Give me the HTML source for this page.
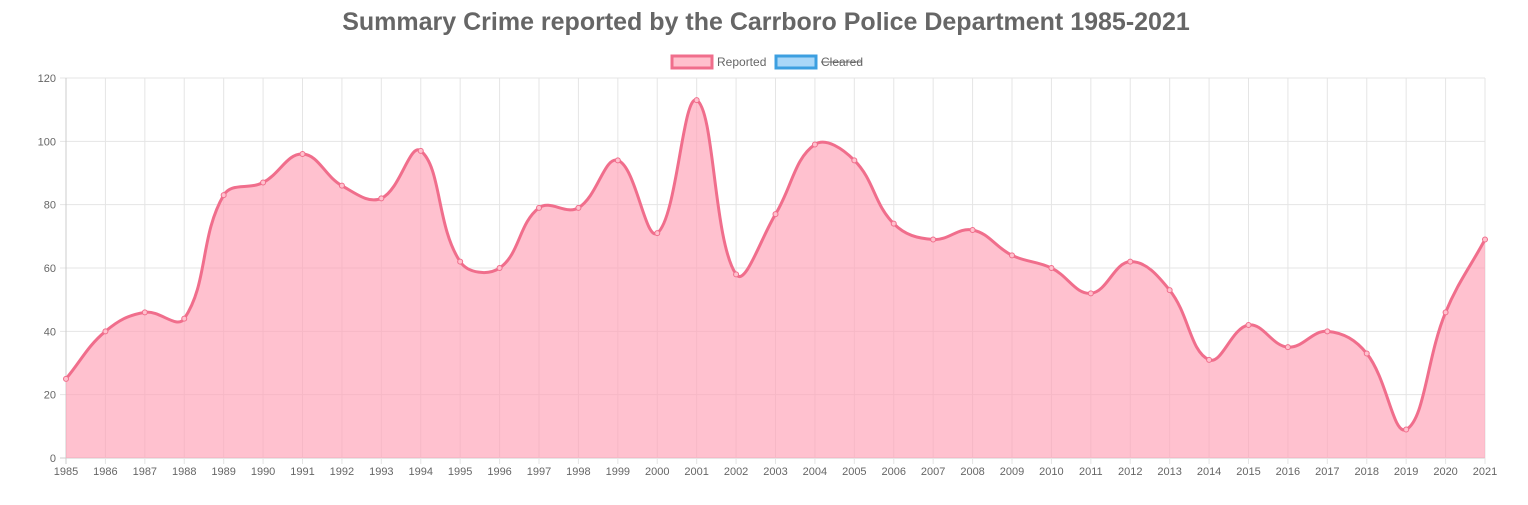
<!DOCTYPE html>
<html><head><meta charset="utf-8"><style>
html,body{margin:0;padding:0;background:#fff;}
body{width:1528px;height:500px;overflow:hidden;font-family:"Liberation Sans",sans-serif;}
</style></head><body>
<svg id="chart" width="1528" height="500" xmlns="http://www.w3.org/2000/svg" font-family="Liberation Sans, sans-serif">
<text x="766" y="30" text-anchor="middle" font-size="25" font-weight="bold" fill="#666">Summary Crime reported by the Carrboro Police Department 1985-2021</text>
<g>
<g>
<rect x="672" y="56" width="40" height="12" fill="#ffc0cd" stroke="#f06e8c" stroke-width="3"/>
<text x="717" y="66" font-size="12" fill="#666">Reported</text>
</g>
<g>
<rect x="776" y="56" width="40" height="12" fill="#a9d7f8" stroke="#3c9fe0" stroke-width="3"/>
<text x="821" y="66" font-size="12" fill="#666">Cleared</text>
<line x1="821" y1="62" x2="862" y2="62" stroke="#666" stroke-width="1"/>
</g>
</g>
<g id="grid"></g>
<g id="marks"></g>
</svg>
<script>
const years=[1985,1986,1987,1988,1989,1990,1991,1992,1993,1994,1995,1996,1997,1998,1999,2000,2001,2002,2003,2004,2005,2006,2007,2008,2009,2010,2011,2012,2013,2014,2015,2016,2017,2018,2019,2020,2021];
const reported=[25,40,46,44,83,87,96,86,82,97,62,60,79,79,94,71,113,58,77,99,94,74,69,72,64,60,52,62,53,31,42,35,40,33,9,46,69];
const yTicks=[0,20,40,60,80,100,120];
const NS="http://www.w3.org/2000/svg";
const x0=66,x1=1485,y0=458,y1=78,yMax=120;
function xs(i){return x0+(x1-x0)*i/(years.length-1);}
function ys(v){return y0-(y0-y1)*v/yMax;}
function mk(t,a,p){const e=document.createElementNS(NS,t);for(const k in a)e.setAttribute(k,a[k]);p.appendChild(e);return e;}
const grid=document.getElementById('grid'),marks=document.getElementById('marks');
yTicks.forEach(v=>{
 const l=mk('line',{x1:x0-6,x2:x1,y1:ys(v),y2:ys(v),stroke:v===0?'#ccc':'#e5e5e5','stroke-width':1},grid);
 
 
 const t=mk('text',{x:x0-10,y:ys(v)+4,'text-anchor':'end','font-size':11,fill:'#666'},grid);
 t.textContent=v;
 
 
});
years.forEach((y,i)=>{
 const l=mk('line',{x1:xs(i),x2:xs(i),y1:y1,y2:y0+6,stroke:i===0?'#ccc':'#e5e5e5','stroke-width':1},grid);
 
 
 const t=mk('text',{x:xs(i),y:y0+17,'text-anchor':'middle','font-size':11,fill:'#666'},grid);
 t.textContent=y;
 
 
});
const pts=reported.map((v,i)=>[xs(i),ys(v)]);
const T=0.4;
function cps(i){
 const p=pts[i],pr=pts[Math.max(i-1,0)],nx=pts[Math.min(i+1,pts.length-1)];
 const d01=Math.hypot(p[0]-pr[0],p[1]-pr[1]),d12=Math.hypot(nx[0]-p[0],nx[1]-p[1]);
 let fa=d01/(d01+d12)||0,fb=d12/(d01+d12)||0;fa*=T;fb*=T;
 return {p:[p[0]-fa*(nx[0]-pr[0]),p[1]-fa*(nx[1]-pr[1])],n:[p[0]+fb*(nx[0]-pr[0]),p[1]+fb*(nx[1]-pr[1])]};
}
const c=pts.map((_,i)=>cps(i));
let d='M'+pts[0][0]+','+pts[0][1];
for(let i=1;i<pts.length;i++){
 d+=' C'+c[i-1].n[0]+','+c[i-1].n[1]+' '+c[i].p[0]+','+c[i].p[1]+' '+pts[i][0]+','+pts[i][1];
}
const area=mk('path',{d:d+' L'+x1+','+y0+' L'+x0+','+y0+' Z',fill:'rgba(255,160,182,0.65)'},marks);


const line=mk('path',{d:d,fill:'none',stroke:'#f06e8c','stroke-width':3},marks);


pts.forEach(p=>{
 const ci=mk('circle',{cx:p[0],cy:p[1],r:2.5,fill:'#ffc0cd',stroke:'#f06e8c','stroke-width':1},marks);
 
 
});
</script>
</body></html>
